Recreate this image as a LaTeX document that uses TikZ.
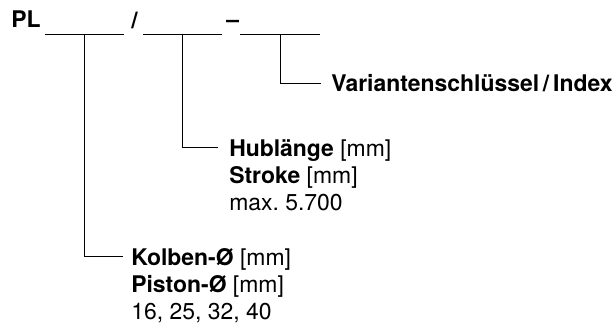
\documentclass[tikz,border=0pt]{standalone}
\usepackage{fontspec}
\setmainfont{TeX Gyre Heros}
\usepackage{tikz}

\begin{document}
\begin{tikzpicture}[x=0.75pt,y=-0.75pt,
        every node/.style={anchor=base west,inner sep=0pt,font=\fontsize{17.2}{20}\selectfont},
        lbl/.style={font=\fontsize{17.2}{20}\selectfont\bfseries},
        lead/.style={line width=0.75pt}]
        \useasboundingbox (0,0) rectangle (616,325);
        \node[lbl](pl) at (11,27) {PL};
        \node[lbl](slash) at (131,28) {/};
        \node[lbl](dash) at (226,27) {--};
        \coordinate(u1a) at (45,34);
        \coordinate(u1b) at (124,34);
        \coordinate(u2a) at (143,34);
        \coordinate(u2b) at (222,34);
        \coordinate(u3a) at (240,34);
        \coordinate(u3b) at (320,34);
        \coordinate(t1) at (84,34);
        \coordinate(t2) at (182,34);
        \coordinate(t3) at (280,34);
        \coordinate(c1) at (84,256);
        \coordinate(c2) at (182,147);
        \coordinate(c3) at (280,83);
        \coordinate(e1) at (123,256);
        \coordinate(e2) at (218,147);
        \coordinate(e3) at (321,83);
        \node(index) at (331,91) {\textbf{Variantenschlüssel\,/\,Index}};
        \node(hub) at (229,156) {\textbf{Hublänge} [mm]};
        \node(stroke) at (229,183) {\textbf{Stroke} [mm]};
        \node(maxhub) at (229,210) {max.\ 5.700};
        \node(kolben) at (131,265) {\textbf{Kolben-Ø} [mm]};
        \node(piston) at (131,292) {\textbf{Piston-Ø} [mm]};
        \node(sizes) at (131,319) {16, 25, 32, 40};
        \draw[lead](u1a)--(u1b);
        \draw[lead](u2a)--(u2b);
        \draw[lead](u3a)--(u3b);
        \draw[lead](t1)--(c1)--(e1);
        \draw[lead](t2)--(c2)--(e2);
        \draw[lead](t3)--(c3)--(e3);
\end{tikzpicture}
\end{document}
